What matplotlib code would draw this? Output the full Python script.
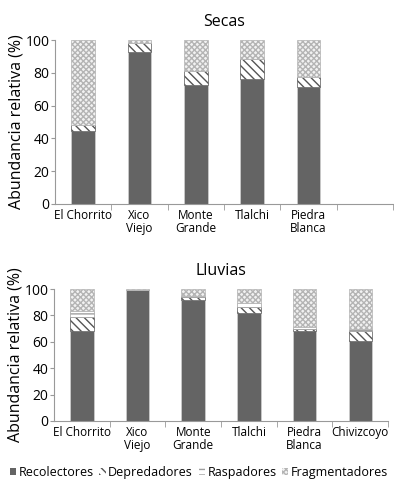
import matplotlib.pyplot as plt
from matplotlib.patches import Patch
import numpy as np

plt.rcParams['font.family'] = ['Open Sans', 'DejaVu Sans']
plt.rcParams['hatch.linewidth'] = 1.0

sitios = ['El Chorrito', 'Xico\nViejo', 'Monte\nGrande', 'Tlalchi', 'Piedra\nBlanca', 'Chivizcoyo']
grupos = ['Recolectores', 'Depredadores', 'Raspadores', 'Fragmentadores']

# secas (5 sitios, sin Chivizcoyo)
secas_rec = [44.5, 92.5, 72.5, 76.5, 71.5]
secas_dep = [3.5, 5.5, 8.5, 12.0, 6.0]
secas_ras = [0.0, 0.0, 0.0, 0.0, 0.0]
secas_fra = [52.0, 2.0, 19.0, 11.5, 22.5]

# lluvias
lluv_rec = [68.0, 99.0, 92.0, 81.5, 68.0, 61.0]
lluv_dep = [10.5, 0.0, 2.0, 5.0, 1.5, 7.0]
lluv_ras = [5.0, 0.0, 1.0, 3.0, 1.5, 1.5]
lluv_fra = [16.5, 1.0, 5.0, 10.5, 29.0, 30.5]

estilos = [
    dict(color='#646464', edgecolor='#d0d0d0', hatch=None),
    dict(color='white', edgecolor='#555555', hatch='\\\\\\\\'),
    dict(color='white', edgecolor='#a0a0a0', hatch='---'),
    dict(color='#f2f2f2', edgecolor='#b4b4b4', hatch='xxxxxx'),
]


def panel(ax, titulo, series, n):
    x = np.arange(n)
    base = np.zeros(n)
    for vals, st in zip(series, estilos):
        vals = np.array(vals)
        ax.bar(x, vals, bottom=base, width=0.42, color=st['color'],
               edgecolor=st['edgecolor'], hatch=st['hatch'], linewidth=0.5)
        base += vals
    ax.set_xlim(-0.5, 5.5)
    ax.set_ylim(0, 100)
    ax.set_yticks([0, 20, 40, 60, 80, 100])
    ax.set_xticks(np.arange(6))
    ax.set_xticklabels(sitios[:n] + [''] * (6 - n), fontsize=8.5, linespacing=1.0)
    ax.set_xticks(np.arange(6) + 0.5, minor=True)
    ax.tick_params(axis='x', which='major', length=0, pad=4)
    ax.tick_params(axis='x', which='minor', length=4, color='#999999')
    ax.tick_params(axis='y', length=3, color='#999999', labelsize=10, pad=1)
    for s in ['top', 'right']:
        ax.spines[s].set_visible(False)
    for s in ['left', 'bottom']:
        ax.spines[s].set_color('#999999')
        ax.spines[s].set_linewidth(0.8)
    ax.set_title(titulo, fontsize=11.5, pad=10)
    ax.set_ylabel('Abundancia relativa (%)', fontsize=11.5, labelpad=1)


fig = plt.figure(figsize=(3.94, 4.90), dpi=100)
ax1 = fig.add_axes([0.140, 0.584, 0.857, 0.334])
ax2 = fig.add_axes([0.137, 0.141, 0.848, 0.269])

panel(ax1, 'Secas', [secas_rec, secas_dep, secas_ras, secas_fra], 5)
panel(ax2, 'Lluvias', [lluv_rec, lluv_dep, lluv_ras, lluv_fra], 6)

handles = [Patch(facecolor=st['color'], edgecolor=st['edgecolor'] if st['hatch'] else '#646464',
                 hatch=st['hatch'], linewidth=0) for st in estilos]
fig.legend(handles, grupos, loc='center', bbox_to_anchor=(0.505, 0.035), ncol=4,
           frameon=False, fontsize=9, handlelength=0.5, handleheight=0.5,
           handletextpad=0.2, columnspacing=0.45, borderaxespad=0)

fig.savefig('out.png', dpi=100)
